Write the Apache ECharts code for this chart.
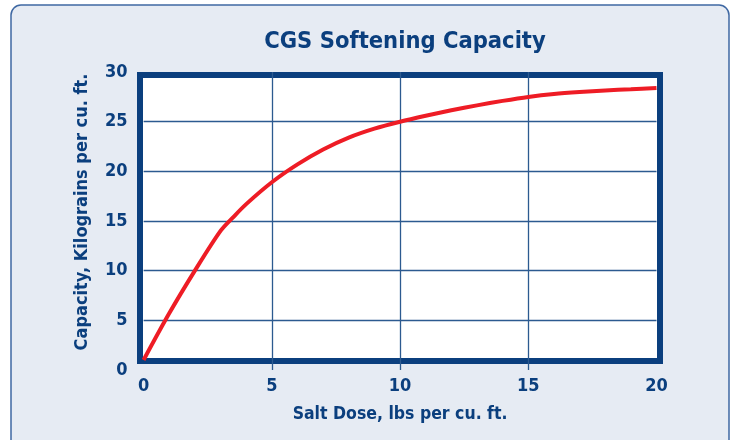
<!DOCTYPE html>
<html><head><meta charset="utf-8">
<script src="https://cdn.jsdelivr.net/npm/echarts@6/dist/echarts.min.js"></script>
<style>html,body{margin:0;padding:0;background:#fff}#c{width:735px;height:440px}</style>
</head><body><div id="c"></div>
<script>
const titleText = 'CGS Softening Capacity';
const xName = 'Salt Dose, lbs per cu. ft.';
const yName = 'Capacity, Kilograins per cu. ft.';
const saltDose = [0, 1, 2, 3, 3.5, 4, 5, 6, 7, 8, 9, 10, 11, 12, 13, 14, 15, 16, 17, 18, 19, 20];
const capacity = [1.0, 5.7, 10.0, 14.0, 15.4, 16.7, 18.9, 20.7, 22.2, 23.4, 24.3, 25.0, 25.6, 26.15, 26.65, 27.1, 27.5, 27.8, 28.0, 28.15, 28.27, 28.4];
const xTicks = [0, 5, 10, 15, 20];
const yTicks = [0, 5, 10, 15, 20, 25, 30];

const navy = '#0b3f7e';
const font = '"Liberation Sans Narrow", "DejaVu Sans Condensed", "Noto Sans", sans-serif';
const chart = echarts.init(document.getElementById('c'), null, {renderer: 'canvas'});
chart.setOption({
  animation: false,
  backgroundColor: '#ffffff',
  graphic: [{
    type: 'rect', z: -10, silent: true,
    shape: {x: 11, y: 5, width: 718, height: 450, r: 10},
    style: {fill: '#e6ebf3', stroke: '#3f68a3', lineWidth: 1.5}
  }],
  title: {
    text: titleText, left: 400, top: 25, textAlign: 'center',
    textStyle: {color: navy, fontFamily: font, fontWeight: 'bold', fontSize: 23.5}
  },
  grid: [
    {left: 143.6, right: 78.5, top: 72.1, bottom: 70.1, containLabel: false},
    {left: 140, right: 75, top: 75, bottom: 79, show: true, borderWidth: 6, borderColor: navy, backgroundColor: '#ffffff', z: -1}
  ],
  xAxis: [{
    type: 'value', gridIndex: 0, min: xTicks[0], max: xTicks[xTicks.length - 1], interval: 5,
    name: xName, nameLocation: 'middle', nameGap: 36,
    nameTextStyle: {color: navy, fontFamily: font, fontWeight: 'bold', fontSize: 17.5},
    axisLine: {show: false}, axisTick: {show: false},
    axisLabel: {color: navy, fontFamily: font, fontWeight: 'bold', fontSize: 18, margin: 7},
    splitLine: {show: true, showMinLine: false, showMaxLine: false, lineStyle: {color: '#2c5a90', width: 1.3}}
  }, {
    type: 'value', gridIndex: 1, show: false
  }],
  yAxis: [{
    type: 'value', gridIndex: 0, min: yTicks[0], max: yTicks[yTicks.length - 1], interval: 5,
    name: yName, nameLocation: 'middle', nameGap: 52,
    nameTextStyle: {color: navy, fontFamily: font, fontWeight: 'bold', fontSize: 18, padding: [0, 0, 0, 18]},
    axisLine: {show: false}, axisTick: {show: false},
    axisLabel: {color: navy, fontFamily: font, fontWeight: 'bold', fontSize: 18, margin: 16},
    splitLine: {show: true, showMinLine: false, showMaxLine: false, lineStyle: {color: '#2c5a90', width: 1.3}}
  }, {
    type: 'value', gridIndex: 1, show: false
  }],
  series: [{
    type: 'line', xAxisIndex: 0, yAxisIndex: 0, z: 5,
    data: saltDose.map((x, i) => [x, capacity[i]]),
    smooth: 0.3, showSymbol: false, clip: false,
    lineStyle: {color: '#ee1c25', width: 4}
  }]
});
</script></body></html>
